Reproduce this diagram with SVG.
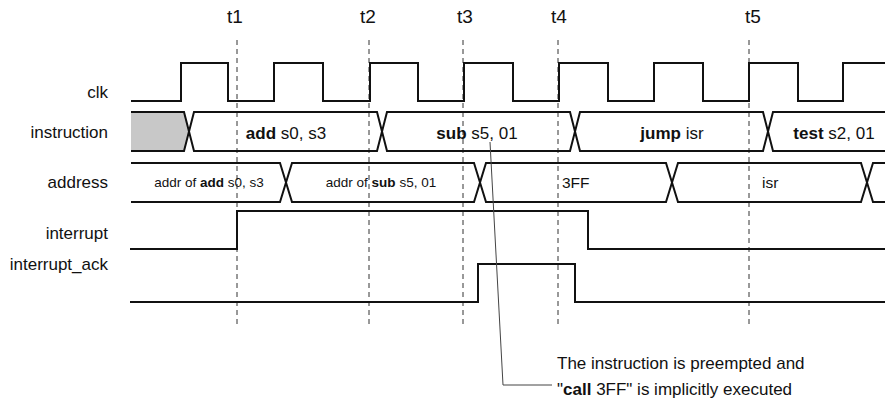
<svg xmlns="http://www.w3.org/2000/svg" width="885" height="412" viewBox="0 0 885 412">
<style>
.lbl{font-family:"Liberation Sans",Arial,sans-serif;font-size:17px;fill:#111;text-anchor:end}
.tl{font-family:"Liberation Sans",Arial,sans-serif;font-size:19px;fill:#111;text-anchor:middle}
.it{font-family:"Liberation Sans",Arial,sans-serif;font-size:17px;fill:#111;text-anchor:middle}
.at{font-family:"Liberation Sans",Arial,sans-serif;font-size:13.5px;fill:#111;text-anchor:middle}
.av{font-family:"Liberation Sans",Arial,sans-serif;font-size:15.5px;fill:#111}
.note{font-family:"Liberation Sans",Arial,sans-serif;font-size:17px;fill:#111}
.b{font-weight:bold}
.sig{fill:none;stroke:#111;stroke-width:2;stroke-linejoin:miter}
.bus{fill:none;stroke:#111;stroke-width:2;stroke-linejoin:miter}
.tick{stroke:#333;stroke-width:1;stroke-dasharray:5,4;fill:none}
.lead{stroke:#444;stroke-width:1;fill:none}
</style>
<rect width="885" height="412" fill="#fff"/>
<g id="time-markers">
<text class="tl" x="235" y="23">t1</text>
<text class="tl" x="368" y="23">t2</text>
<text class="tl" x="465" y="23">t3</text>
<text class="tl" x="559" y="23">t4</text>
<text class="tl" x="753" y="23">t5</text>
<line class="tick" x1="237" y1="40" x2="237" y2="325"/>
<line class="tick" x1="369" y1="40" x2="369" y2="325"/>
<line class="tick" x1="463" y1="40" x2="463" y2="325"/>
<line class="tick" x1="558" y1="40" x2="558" y2="325"/>
<line class="tick" x1="749" y1="40" x2="749" y2="325"/>
</g>
<g id="labels">
<text class="lbl" x="108" y="98">clk</text>
<text class="lbl" x="108" y="138">instruction</text>
<text class="lbl" x="108" y="188">address</text>
<text class="lbl" x="108" y="239">interrupt</text>
<text class="lbl" x="108" y="270">interrupt_ack</text>
</g>
<g id="clk">
<path class="sig" d="M131,101 H181 V63 H228 V101 H274 V63 H323 V101 H370 V63 H418 V101 H464 V63 H513 V101 H559 V63 H608 V101 H654 V63 H703 V101 H749 V63 H798 V101 H843 V63 H885"/>
</g>
<g id="instruction">
<path d="M131,112 H184 L189,131.5 L184,151 H131 Z" fill="#c8c8c8"/>
<path class="bus" d="M131,112 H184 L189,131.5 L184,151 H131"/>
<path class="bus" d="M194,112 H377 L382,131.5 L377,151 H194 L189,131.5 Z"/>
<path class="bus" d="M387,112 H570 L575,131.5 L570,151 H387 L382,131.5 Z"/>
<path class="bus" d="M580,112 H763 L768,131.5 L763,151 H580 L575,131.5 Z"/>
<path class="bus" d="M885,112 H773 L768,131.5 L773,151 H885"/>
<text class="it" x="286" y="139"><tspan class="b">add</tspan> s0, s3</text>
<text class="it" x="477" y="139"><tspan class="b">sub</tspan> s5, 01</text>
<text class="it" x="672" y="139"><tspan class="b">jump</tspan> isr</text>
<text class="it" x="834" y="139"><tspan class="b">test</tspan> s2, 01</text>
</g>
<g id="address">
<path class="bus" d="M131,163 H280 L286,182.5 L280,202 H131"/>
<path class="bus" d="M292,163 H474 L480,182.5 L474,202 H292 L286,182.5 Z"/>
<path class="bus" d="M486,163 H666 L672,182.5 L666,202 H486 L480,182.5 Z"/>
<path class="bus" d="M678,163 H861 L867,182.5 L861,202 H678 L672,182.5 Z"/>
<path class="bus" d="M885,163 H873 L867,182.5 L873,202 H885"/>
<text class="at" x="209" y="187">addr of <tspan class="b">add</tspan> s0, s3</text>
<text class="at" x="381" y="187">addr of <tspan class="b">sub</tspan> s5, 01</text>
<text class="av" x="562" y="188">3FF</text>
<text class="av" x="762" y="188">isr</text>
</g>
<g id="interrupt">
<path class="sig" d="M130,249 H237 V211 H588 V249 H885"/>
</g>
<g id="interrupt_ack">
<path class="sig" d="M130,302 H478 V264 H575 V302 H885"/>
</g>
<g id="connectors">
<path class="lead" d="M490,142 L503,385 H552"/>
</g>
<g id="note">
<text class="note" x="557" y="369">The instruction is preempted and</text>
<text class="note" x="557" y="395">"<tspan class="b">call</tspan> 3FF" is implicitly executed</text>
</g>
</svg>
